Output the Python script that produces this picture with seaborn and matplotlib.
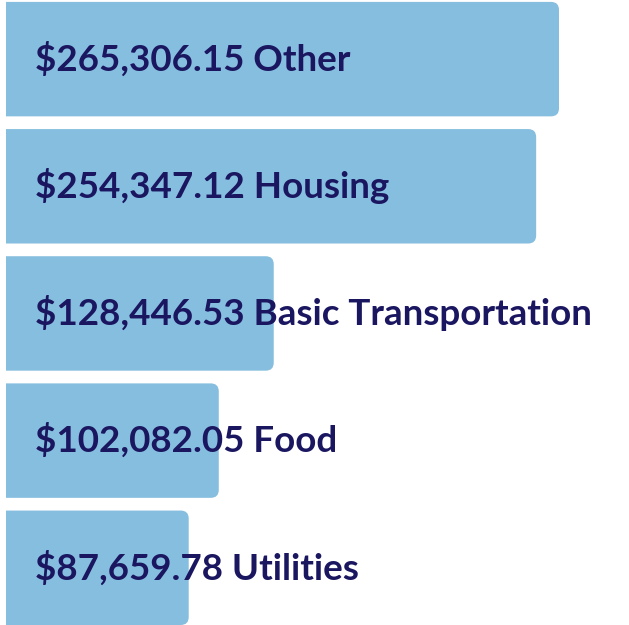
import matplotlib
matplotlib.use("Agg")
import matplotlib.pyplot as plt
import seaborn as sns
import pandas as pd
from matplotlib.patches import FancyBboxPatch

categories = ["Other", "Housing", "Basic Transportation", "Food", "Utilities"]
values = [265306.15, 254347.12, 128446.53, 102082.05, 87659.78]

bar_color = "#86BEDF"
text_color = "#1A1660"

sns.set_theme(style="white")
plt.rcParams['font.family'] = ['Lato', 'DejaVu Sans']

df = pd.DataFrame({"category": categories, "value": values})

W, H = 629, 625
fig = plt.figure(figsize=(W / 100, H / 100), dpi=100)
left_px = 6
ax = fig.add_axes([left_px / W, 0, 1 - left_px / W, 1])

sns.barplot(data=df, x="value", y="category", orient="h", color=bar_color,
            width=0.9, saturation=1, ax=ax)

xmax = values[0] * (W - left_px) / 553.0
ax.set_xlim(0, xmax)
ax.set_ylim(4.45, -0.465)

xpp = xmax / (W - left_px)          # x data per pixel
ypp = (4.45 + 0.465) / H            # y data per pixel
r_px = 8
for p in list(ax.patches):
    x0, y0 = p.get_x(), p.get_y()
    w, h = p.get_width(), p.get_height()
    p.remove()
    ext = 2 * r_px * xpp
    fb = FancyBboxPatch((x0 - ext, y0), w + ext, h,
                        boxstyle=f"round,pad=0,rounding_size={r_px * xpp}",
                        mutation_aspect=ypp / xpp,
                        facecolor=bar_color, edgecolor="none")
    ax.add_patch(fb)

for i, (c, v) in enumerate(zip(categories, values)):
    ax.text(29 * xpp, i, f"${v:,.2f} {c}", ha="left", va="center",
            fontsize=26.5, fontweight="bold", color=text_color)

ax.axis("off")
fig.savefig("out.png", dpi=100)
